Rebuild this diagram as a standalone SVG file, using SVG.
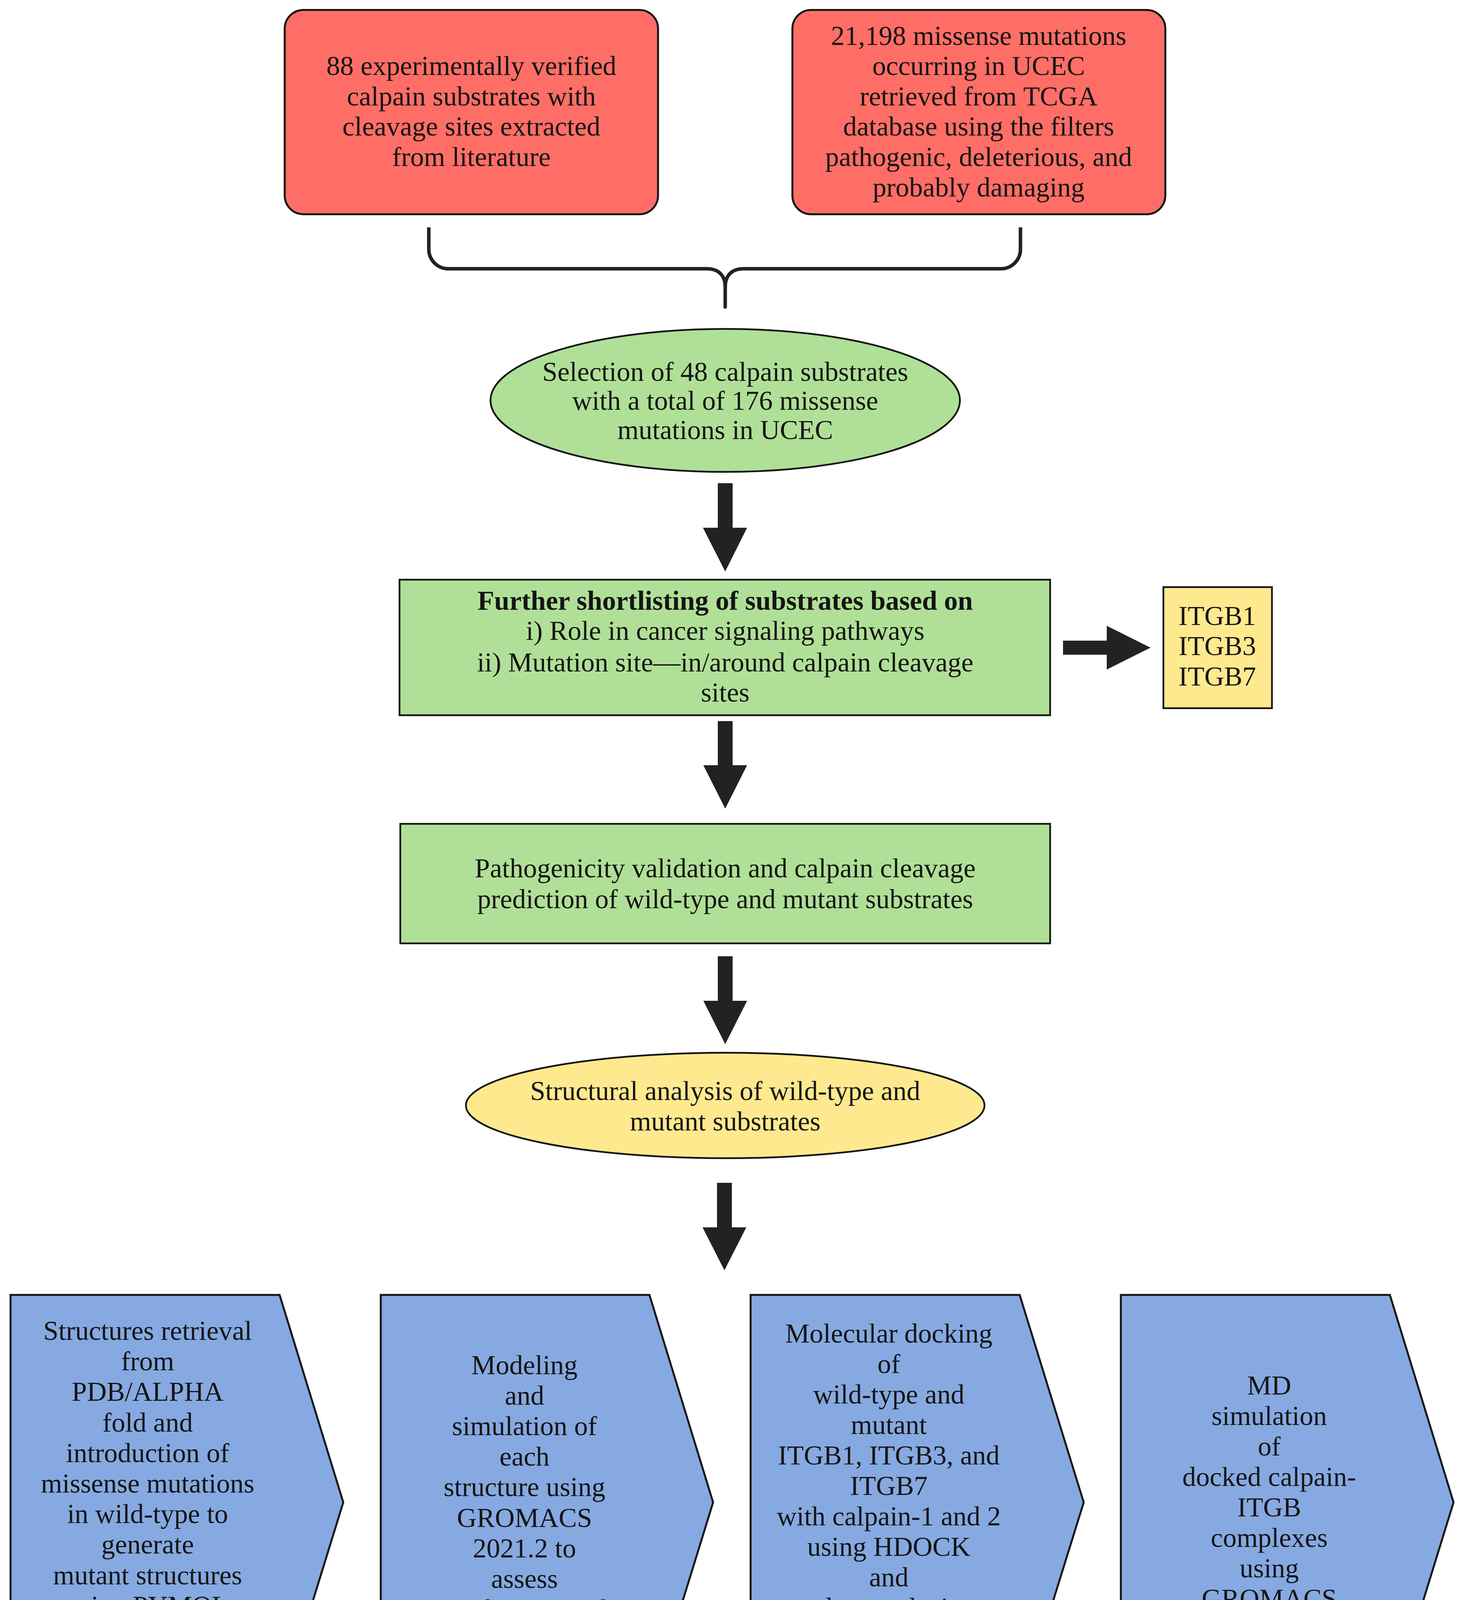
<svg xmlns="http://www.w3.org/2000/svg" width="3759" height="4402" viewBox="0 0 3759 4402">
<style>
.t{font-family:"Liberation Serif","Times New Roman",serif;font-size:70px;fill:#151515;text-anchor:middle}
.b{font-weight:bold}
.red{fill:#FF6E66;stroke:#151515;stroke-width:5}
.grn{fill:#B0E097;stroke:#151515;stroke-width:4.5}
.yel{fill:#FFE98F;stroke:#151515;stroke-width:4.5}
.blu{fill:#86A9E1;stroke:#151515;stroke-width:5;stroke-linejoin:miter}
.arr{fill:#222222}
.brace{fill:none;stroke:#222222;stroke-width:9}
</style>
<rect width="3759" height="4402" fill="#ffffff"/>
<g id="node-literature">
<rect class="red" x="729" y="25.5" width="956" height="523" rx="48" ry="48"/>
<text class="t"><tspan x="1207" y="192">88 experimentally verified</tspan><tspan x="1207" y="270">calpain substrates with</tspan><tspan x="1207" y="347">cleavage sites extracted</tspan><tspan x="1207" y="425">from literature</tspan></text>
</g>
<g id="node-tcga">
<rect class="red" x="2029" y="25.5" width="955" height="523" rx="48" ry="48"/>
<text class="t"><tspan x="2506" y="115">21,198 missense mutations</tspan><tspan x="2506" y="192">occurring in UCEC</tspan><tspan x="2506" y="270">retrieved from TCGA</tspan><tspan x="2506" y="347">database using the filters</tspan><tspan x="2506" y="425">pathogenic, deleterious, and</tspan><tspan x="2506" y="503">probably damaging</tspan></text>
</g>
<g id="node-selection">
<ellipse class="grn" cx="1857" cy="1025" rx="601" ry="183"/>
<text class="t"><tspan x="1857" y="975">Selection of 48 calpain substrates</tspan><tspan x="1857" y="1049">with a total of 176 missense</tspan><tspan x="1857" y="1124">mutations in UCEC</tspan></text>
</g>
<g id="node-shortlisting">
<rect class="grn" x="1023" y="1484" width="1666" height="347"/>
<text class="t"><tspan class="b" x="1857" y="1561">Further shortlisting of substrates based on</tspan><tspan x="1857" y="1638">i) Role in cancer signaling pathways</tspan><tspan x="1857" y="1719">ii) Mutation site—in/around calpain cleavage</tspan><tspan x="1857" y="1796">sites</tspan></text>
</g>
<g id="node-itgb">
<rect class="yel" x="2979" y="1503" width="278" height="310"/>
<text class="t"><tspan x="3117" y="1600">ITGB1</tspan><tspan x="3117" y="1677">ITGB3</tspan><tspan x="3117" y="1755">ITGB7</tspan></text>
</g>
<g id="node-pathogenicity">
<rect class="grn" x="1025" y="2109" width="1664" height="306"/>
<text class="t"><tspan x="1857" y="2246">Pathogenicity validation and calpain cleavage</tspan><tspan x="1857" y="2325">prediction of wild-type and mutant substrates</tspan></text>
</g>
<g id="node-structural">
<ellipse class="yel" cx="1857" cy="2830" rx="664" ry="135"/>
<text class="t"><tspan x="1857" y="2816">Structural analysis of wild-type and</tspan><tspan x="1857" y="2894">mutant substrates</tspan></text>
</g>
<g id="node-retrieval">
<polygon class="blu" points="27,3315 716,3315 879,3846 716,4374 27,4374"/>
<text class="t"><tspan x="378" y="3430">Structures retrieval</tspan><tspan x="378" y="3508">from</tspan><tspan x="378" y="3586">PDB/ALPHA</tspan><tspan x="378" y="3665">fold and</tspan><tspan x="378" y="3743">introduction of</tspan><tspan x="378" y="3821">missense mutations</tspan><tspan x="378" y="3899">in wild-type to</tspan><tspan x="378" y="3977">generate</tspan><tspan x="378" y="4056">mutant structures</tspan><tspan x="378" y="4134">using PYMOL</tspan><tspan x="378" y="4212">platform</tspan></text>
</g>
<g id="node-modeling">
<polygon class="blu" points="975,3315 1663,3315 1826,3846 1663,4374 975,4374"/>
<text class="t"><tspan x="1343" y="3518">Modeling</tspan><tspan x="1343" y="3596">and</tspan><tspan x="1343" y="3674">simulation of</tspan><tspan x="1343" y="3752">each</tspan><tspan x="1343" y="3830">structure using</tspan><tspan x="1343" y="3909">GROMACS</tspan><tspan x="1343" y="3987">2021.2 to</tspan><tspan x="1343" y="4065">assess</tspan><tspan x="1343" y="4143">conformational</tspan><tspan x="1343" y="4221">stability</tspan></text>
</g>
<g id="node-docking">
<polygon class="blu" points="1922,3315 2611,3315 2775,3846 2611,4374 1922,4374"/>
<text class="t"><tspan x="2276" y="3437">Molecular docking</tspan><tspan x="2276" y="3515">of</tspan><tspan x="2276" y="3593">wild-type and</tspan><tspan x="2276" y="3671">mutant</tspan><tspan x="2276" y="3749">ITGB1, ITGB3, and</tspan><tspan x="2276" y="3827">ITGB7</tspan><tspan x="2276" y="3905">with calpain-1 and 2</tspan><tspan x="2276" y="3983">using HDOCK</tspan><tspan x="2276" y="4061">and</tspan><tspan x="2276" y="4139">data analysis</tspan><tspan x="2276" y="4217">using</tspan><tspan x="2276" y="4295">Discovery Studio</tspan></text>
</g>
<g id="node-md">
<polygon class="blu" points="2870,3315 3559,3315 3722,3846 3559,4374 2870,4374"/>
<text class="t"><tspan x="3250" y="3570">MD</tspan><tspan x="3250" y="3648">simulation</tspan><tspan x="3250" y="3726">of</tspan><tspan x="3250" y="3804">docked calpain-</tspan><tspan x="3250" y="3882">ITGB</tspan><tspan x="3250" y="3960">complexes</tspan><tspan x="3250" y="4038">using</tspan><tspan x="3250" y="4116">GROMACS</tspan><tspan x="3250" y="4194">2021.2</tspan></text>
</g>
<g id="connectors">
<path class="brace" d="M1098,582 V638 A50,50 0 0 0 1148,688 H1810 C1840,688 1857,705 1857,735 C1857,705 1874,688 1904,688 H2563 A50,50 0 0 0 2613,638 V582"/>
<path class="brace" stroke-linecap="round" d="M1857,730 V786"/>
<polygon class="arr" points="1838,1237 1876,1237 1876,1351 1913,1351 1857,1463 1800,1351 1838,1351"/>
<polygon class="arr" points="1838,1846 1876,1846 1876,1959 1913,1959 1857,2070 1801,1959 1838,1959"/>
<polygon class="arr" points="1838,2448 1876,2448 1876,2562 1913,2562 1857,2673 1801,2562 1838,2562"/>
<polygon class="arr" points="1836,3028 1874,3028 1874,3142 1911,3142 1855,3252 1799,3142 1836,3142"/>
<polygon class="arr" points="2722,1640 2834,1640 2834,1602 2946,1658 2834,1714 2834,1676 2722,1676"/>
</g>
</svg>
